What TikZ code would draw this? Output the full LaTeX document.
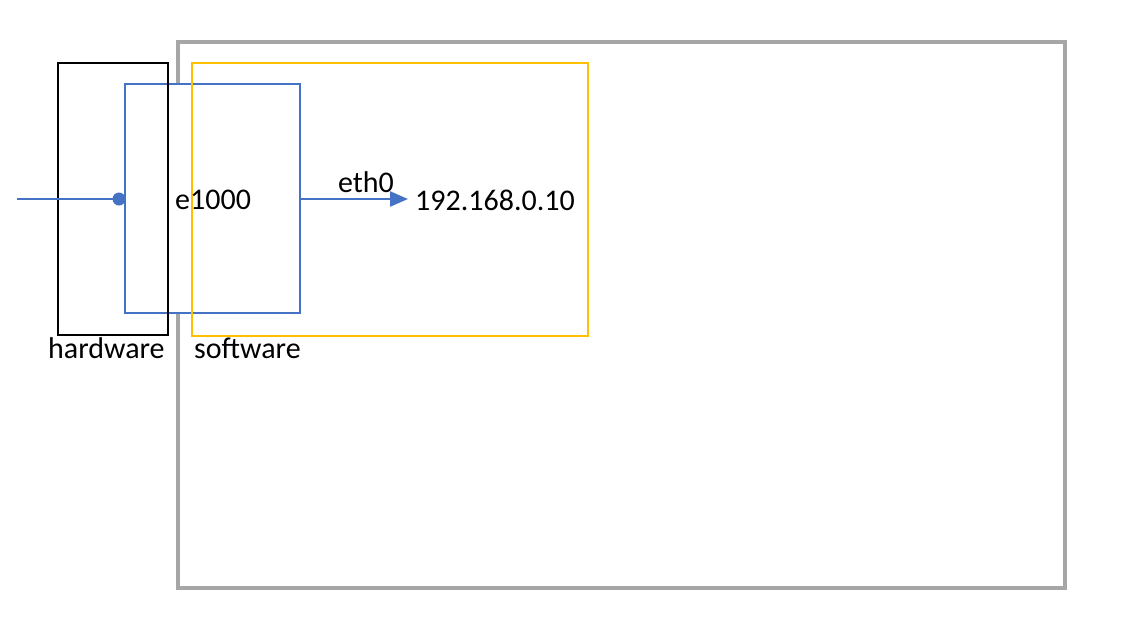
\documentclass[tikz,border=0pt]{standalone}
\usepackage{fontspec}
\setmainfont{Carlito}
\usetikzlibrary{arrows.meta}
\definecolor{gframe}{HTML}{A6A6A6}
\definecolor{nicblue}{HTML}{4472C4}
\definecolor{swyellow}{HTML}{FFC000}
\begin{document}
\begin{tikzpicture}[x=1pt,y=-1pt,
  lbl/.style={font=\fontsize{30}{32}\selectfont, inner sep=0pt, text=black},
  boxbase/.style={inner sep=0pt, outer sep=0pt}
]
\useasboundingbox (0,0) rectangle (1124,630);
% outer gray frame
\node[boxbase, draw=gframe, line width=4pt, minimum width=887pt, minimum height=546pt] (host) at (621.5,315) {};
% blue e1000 box (white fill)
\node[boxbase, draw=nicblue, fill=white, line width=1.5pt, minimum width=175pt, minimum height=229pt] (nic) at (212.5,198.5) {};
% hardware box
\node[boxbase, draw=black, line width=1.5pt, minimum width=110pt, minimum height=272pt] (hw) at (113,199) {};
% software box
\node[boxbase, draw=swyellow, line width=1.5pt, minimum width=396pt, minimum height=273pt] (sw) at (390,199.5) {};
% texts
\node[lbl, anchor=base west] (e1000) at (175,209) {e1000};
\node[lbl, anchor=base west] (ip) at (415,210) {192.168.0.10};
\node[lbl, anchor=base] (eth) at (366,192) {eth0};
\node[lbl, anchor=base west] (hwl) at (48,358) {hardware};
\node[lbl, anchor=base west] (swl) at (194,358) {software};
% connectors
\coordinate (wire) at (17,199);
\node[circle, fill=nicblue, inner sep=0pt, minimum size=13pt] (dot) at (119,199) {};
\draw[nicblue, line width=2.4pt] (wire) -- (dot.center);
\draw[nicblue, line width=2.4pt, -{Triangle[length=18pt,width=15pt]}] (nic.east |- 0,199) -- (408,199) coordinate (tip);
\end{tikzpicture}
\end{document}
